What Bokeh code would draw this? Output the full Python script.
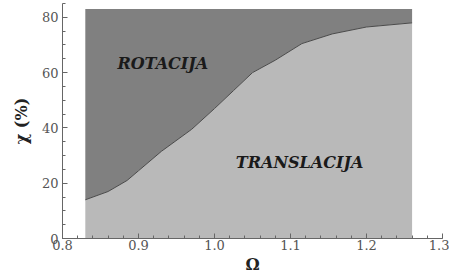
from bokeh.plotting import figure
from bokeh.models import Range1d, FixedTicker, Label
from bokeh.embed import file_html
from bokeh.resources import INLINE

# boundary between regions (Omega, chi %)
omega = [0.83, 0.86, 0.885, 0.90, 0.93, 0.97, 1.00, 1.025, 1.05, 1.08, 1.115, 1.155, 1.20, 1.26]
chi = [14.0, 17.0, 21.0, 24.5, 31.5, 39.5, 47.0, 53.5, 60.0, 64.5, 70.5, 74.0, 76.5, 78.0]
chi_top = 83.0
x_ticks = [0.8, 0.9, 1.0, 1.1, 1.2, 1.3]
y_ticks = [0, 20, 40, 60, 80]
region_labels = ["ROTACIJA", "TRANSLACIJA"]
region_x = [0.932, 1.112]
region_y = [63.4, 27.4]

SERIF = "DejaVu Serif"

p = figure(width=449, height=276, output_backend="svg", toolbar_location=None,
           x_range=Range1d(0.8, 1.3), y_range=Range1d(0, 85),
           min_border_left=62, min_border_right=7, min_border_top=3, min_border_bottom=37)
p.outline_line_color = None
p.xgrid.visible = False
p.ygrid.visible = False

p.varea(x=omega, y1=[0] * len(omega), y2=chi, fill_color="#b9b9b9")
p.varea(x=omega, y1=chi, y2=[chi_top] * len(omega), fill_color="#808080")
p.line(omega, chi, line_color="#4a4a4a", line_width=1)

for ax in (p.xaxis[0], p.yaxis[0]):
    ax.major_tick_in = 5
    ax.major_tick_out = 0
    ax.minor_tick_in = 3
    ax.minor_tick_out = 0
    ax.axis_line_color = "#666666"
    ax.major_tick_line_color = "#666666"
    ax.minor_tick_line_color = "#666666"
    ax.major_label_text_font = SERIF
    ax.major_label_text_font_size = "13px"
    ax.major_label_text_color = "#555555"
    ax.axis_label_text_font = SERIF
    ax.axis_label_text_font_style = "bold"
    ax.axis_label_text_font_size = "16px"
    ax.axis_label_text_color = "#222222"

p.xaxis[0].ticker = FixedTicker(ticks=x_ticks, minor_ticks=[round(0.8 + 0.02 * i, 2) for i in range(26)])
p.yaxis[0].ticker = FixedTicker(ticks=y_ticks, minor_ticks=list(range(0, 86, 5)))
p.xaxis[0].major_label_overrides = {t: f"{t:.1f}" for t in x_ticks}
p.xaxis[0].axis_label = "Ω"
p.yaxis[0].axis_label = "χ (%)"
p.xaxis[0].major_label_standoff = 1
p.xaxis[0].axis_label_standoff = 2
p.yaxis[0].major_label_standoff = 4
p.yaxis[0].axis_label_standoff = 8

for t, xx, yy in zip(region_labels, region_x, region_y):
    p.add_layout(Label(x=xx, y=yy, text=t, text_font=SERIF, text_font_style="bold italic",
                       text_font_size="16px", text_color="#1a1a1a", text_align="center",
                       text_baseline="middle"))

open("out.html", "w").write(file_html(p, INLINE))
